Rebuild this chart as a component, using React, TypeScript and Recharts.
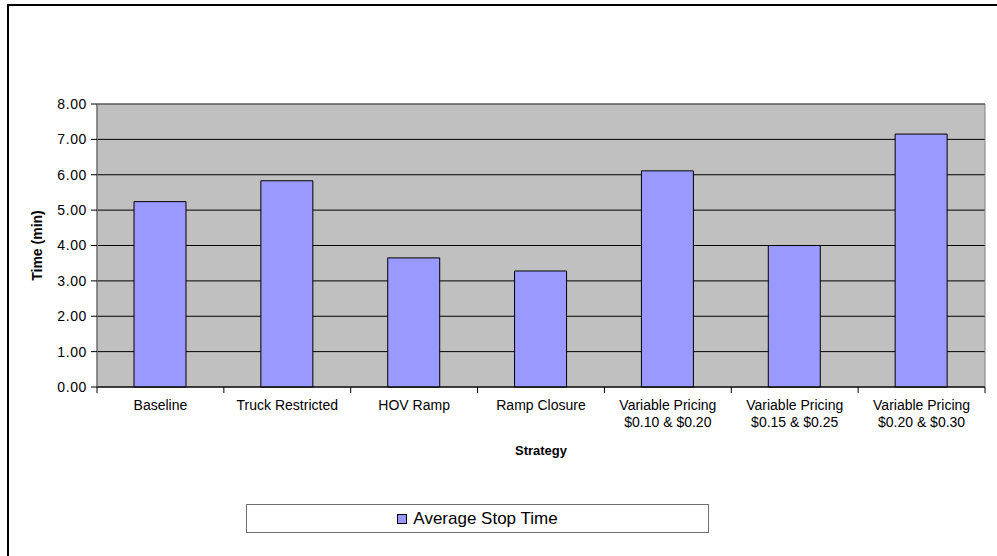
import React from 'react';
import {
  BarChart,
  Bar,
  XAxis,
  YAxis,
  CartesianGrid,
  ReferenceArea,
  Label,
} from 'recharts';

const strategies = [
  'Baseline',
  'Truck Restricted',
  'HOV Ramp',
  'Ramp Closure',
  'Variable Pricing\n$0.10 & $0.20',
  'Variable Pricing\n$0.15 & $0.25',
  'Variable Pricing\n$0.20 & $0.30',
];
const stopTimes = [5.24, 5.83, 3.65, 3.28, 6.11, 4.0, 7.15];
const yTicks = [0, 1, 2, 3, 4, 5, 6, 7, 8];

const seriesName = 'Average Stop Time';
const font = '"Liberation Sans", Arial, sans-serif';
const barFill = '#9999FF';
const plotFill = '#C0C0C0';

const data = strategies.map((s, i) => ({ strategy: s, time: stopTimes[i] }));

// multi-line category labels, Excel style, tick marks between categories
const CategoryTick = (props: any) => {
  const { x, y, payload } = props;
  const half = payload.offset || 0;
  const lines = String(payload.value).split('\n');
  const axisY = y - 8;
  return (
    <g>
      <line x1={x - half} x2={x - half} y1={axisY} y2={axisY + 6} stroke="#000" />
      {payload.index === strategies.length - 1 && (
        <line x1={x + half} x2={x + half} y1={axisY} y2={axisY + 6} stroke="#000" />
      )}
      <text x={x} y={y} textAnchor="middle" fill="#000" fontSize={14} fontFamily={font}>
        {lines.map((ln, i) => (
          <tspan key={i} x={x} dy={i === 0 ? 15 : 16.7}>
            {ln}
          </tspan>
        ))}
      </text>
    </g>
  );
};

const YLabel = (props: any) => {
  const { viewBox } = props;
  const cx = viewBox.x + 37;
  const cy = viewBox.y + viewBox.height / 2;
  return (
    <text
      x={cx}
      y={cy}
      transform={`rotate(-90 ${cx} ${cy})`}
      textAnchor="middle"
      dominantBaseline="central"
      fontSize={14}
      fontWeight="bold"
      fontFamily={font}
      fill="#000"
    >
      Time (min)
    </text>
  );
};

const XLabel = (props: any) => {
  const { viewBox } = props;
  return (
    <text
      x={viewBox.x + viewBox.width / 2}
      y={viewBox.y + 68}
      textAnchor="middle"
      fontSize={13}
      fontWeight="bold"
      fontFamily={font}
      fill="#000"
    >
      Strategy
    </text>
  );
};

export default function App() {
  return (
    <div style={{ position: 'absolute', left: 0, top: 0, width: 997, height: 556, background: '#fff' }}>
      {/* frame of the embedded chart (cropped on right/bottom) */}
      <div
        style={{
          position: 'absolute',
          left: 7,
          top: 4,
          right: 0,
          bottom: 0,
          borderTop: '2px solid #000',
          borderLeft: '2px solid #000',
        }}
      />
      <div style={{ position: 'absolute', left: 0, top: 0 }}>
        <BarChart
          width={997}
          height={556}
          data={data}
          margin={{ top: 104, right: 12, left: 0, bottom: 89 }}
        >
          <CartesianGrid
            xAxisId="cat"
            yAxisId="y"
            vertical={false}
            stroke="#000"
            fill={plotFill}
            fillOpacity={1}
          />
          <XAxis
            xAxisId="cat"
            dataKey="strategy"
            interval={0}
            tick={<CategoryTick />}
            tickLine={false}
            axisLine={{ stroke: '#000' }}
            tickSize={6}
            tickMargin={2}
            height={80}
          >
            <Label content={<XLabel />} />
          </XAxis>
          <YAxis
            yAxisId="y"
            domain={[0, 8]}
            ticks={yTicks}
            interval={0}
            width={97}
            tickSize={6}
            tickMargin={4}
            tickLine={{ stroke: '#000' }}
            axisLine={{ stroke: '#606060' }}
            tickFormatter={(v: number) => v.toFixed(2)}
            tick={{ fill: '#000', fontSize: 14, fontFamily: font, letterSpacing: 0.6 }}
          >
            <Label content={<YLabel />} />
          </YAxis>
          <ReferenceArea
            xAxisId="cat"
            yAxisId="y"
            y1={0}
            y2={8}
            fill="none"
            stroke="#808080"
            strokeWidth={1}
          />
          <Bar
            xAxisId="cat"
            yAxisId="y"
            dataKey="time"
            name={seriesName}
            fill={barFill}
            stroke="#000"
            strokeWidth={1}
            barSize={52}
            isAnimationActive={false}
          />
        </BarChart>
      </div>
      {/* legend box */}
      <div
        style={{
          position: 'absolute',
          left: 246,
          top: 504,
          width: 461,
          height: 27,
          border: '1px solid #707070',
          display: 'flex',
          alignItems: 'center',
          justifyContent: 'center',
          fontFamily: font,
          fontSize: 17,
          color: '#000',
        }}
      >
        <span
          style={{
            display: 'inline-block',
            width: 8,
            height: 8,
            background: barFill,
            border: '1px solid #000',
            marginRight: 6,
          }}
        />
        <span>{seriesName}</span>
      </div>
    </div>
  );
}
